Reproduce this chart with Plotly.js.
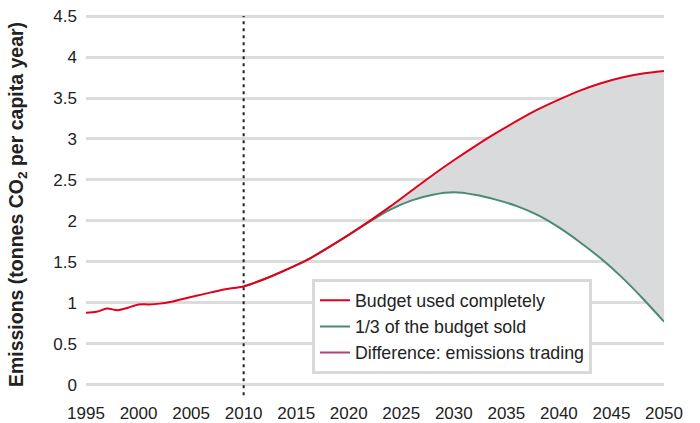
<!DOCTYPE html>
<html>
<head>
<meta charset="utf-8">
<script src="https://cdn.plot.ly/plotly-3.0.1.min.js"></script>
<style>html,body{margin:0;padding:0;background:#fff}#chart{width:700px;height:423px}</style>
</head>
<body>
<div id="chart"></div>
<script>
// Years and values
const years = [1995,1996,1997,1998,1999,2000,2001,2002,2003,2004,2005,2006,2007,2008,2009,2010,
  2012,2014,2016,2018,2020,2022,2024,2026,2028,2030,2032,2034,2036,2038,2040,2042,2044,2046,2048,2050];
const budgetUsed = [0.88,0.89,0.93,0.91,0.94,0.98,0.98,0.99,1.01,1.04,1.07,1.10,1.13,1.16,1.18,1.20,
  1.29,1.40,1.52,1.67,1.83,2.00,2.18,2.37,2.56,2.74,2.91,3.07,3.22,3.36,3.48,3.59,3.68,3.75,3.80,3.83];
const projYears = [2010,2012,2014,2016,2018,2020,2022,2024,2026,2028,2030,2032,2034,2036,2038,2040,2042,2044,2046,2048,2050];
const budgetSold = [1.20,1.29,1.40,1.52,1.67,1.83,1.99,2.14,2.25,2.32,2.35,2.32,2.26,2.18,2.07,1.92,1.74,1.54,1.31,1.05,0.77];
const projBudgetUsed = budgetUsed.slice(years.indexOf(2010));
const seriesNames = ["Budget used completely","1/3 of the budget sold","Difference: emissions trading"];
const xTicks = [1995,2000,2005,2010,2015,2020,2025,2030,2035,2040,2045,2050];
const yTicks = [0,0.5,1,1.5,2,2.5,3,3.5,4,4.5];

const RED = '#e2001a', GREEN = '#4b8a75', PURPLE = '#b2407f', FILL = '#d9dadc';
const font = "Arial, 'Liberation Sans', Helvetica, sans-serif";

const traces = [
  {x: projYears, y: budgetSold, mode:'lines', line:{width:0, shape:'spline', smoothing:1}, showlegend:false, hoverinfo:'skip'},
  {x: projYears, y: projBudgetUsed, mode:'lines', fill:'tonexty', fillcolor:FILL, line:{width:0, shape:'spline', smoothing:1}, showlegend:false, hoverinfo:'skip'},
  {x: projYears, y: budgetSold, mode:'lines', name: seriesNames[1], legendrank:2, line:{color:GREEN, width:2, shape:'spline', smoothing:1}},
  {x: years, y: budgetUsed, mode:'lines', name: seriesNames[0], legendrank:1, line:{color:RED, width:2, shape:'spline', smoothing:0.8}},
  {x: [null], y: [null], mode:'lines', name: seriesNames[2], legendrank:3, line:{color:PURPLE, width:2}}
];

const layout = {
  width:700, height:423,
  margin:{l:86, r:36, t:12, b:26},
  paper_bgcolor:'#fff', plot_bgcolor:'#fff',
  font:{family:font, size:17, color:'#222'},
  showlegend:true,
  legend:{x:0.391, y:0.306, xanchor:'left', yanchor:'top', bgcolor:'#fff', bordercolor:'#d9d9d9', borderwidth:3,
    font:{family:font, size:17.8, color:'#222'}, traceorder:'normal', itemwidth:30, tracegroupgap:0},
  xaxis:{range:[1995,2050], tickvals:xTicks, ticktext:xTicks.map(String), showgrid:false, zeroline:false, showline:false,
    ticks:'', ticklabelstandoff:4, tickfont:{size:17, color:'#222'}, fixedrange:true},
  yaxis:{range:[-0.15,4.55], tickvals:yTicks, ticktext:yTicks.map(String), showgrid:true, gridcolor:'#dcdcdc', gridwidth:3,
    zeroline:false, showline:false, ticks:'', ticklabelstandoff:8, tickfont:{size:17, color:'#222'},
    title:{text:'<b>Emissions (tonnes CO<sub>2</sub> per capita year)</b>', font:{size:19.5, color:'#222'}, standoff:24}},
  shapes:[{type:'line', xref:'x', yref:'y', x0:2010, x1:2010, y0:-0.13, y1:4.5, line:{color:'#222', width:2, dash:'3px,4px'}, layer:'above'}]
};
Plotly.newPlot('chart', traces, layout, {displayModeBar:false, staticPlot:true});
</script>
</body>
</html>
